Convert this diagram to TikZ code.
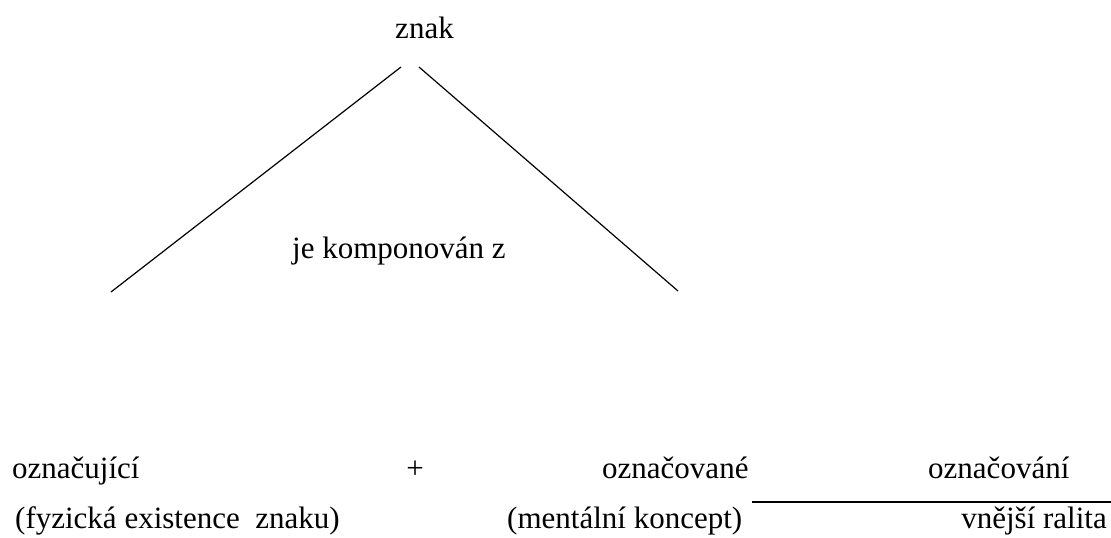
\documentclass[tikz,border=0pt]{standalone}
\usepackage{fontspec}
\setmainfont{Liberation Serif}
\begin{document}
\begin{tikzpicture}[x=1pt,y=-1pt,
  lbl/.style={inner sep=0pt,font=\fontsize{31}{34}\selectfont},
  ln/.style={line width=1.2pt,black}]
\useasboundingbox (0,0) rectangle (1111,538);
\node[lbl,anchor=base] (znak) at (424.5,38) {znak};
\node[lbl,anchor=base west] (komp) at (292,258) {je komponován z};
\node[lbl,anchor=base west] (oznc) at (12,478) {označující};
\node[lbl,anchor=base] (plus) at (415,478) {+};
\node[lbl,anchor=base west] (oznv) at (602,478) {označované};
\node[lbl,anchor=base west] (oznani) at (928,478) {označování};
\node[lbl,anchor=base west] (fyz) at (15,528) {(fyzická existence \ znaku)};
\node[lbl,anchor=base west] (ment) at (507,528) {(mentální koncept)};
\node[lbl,anchor=base east] (vnej) at (1107,528) {vnější ralita};
\coordinate (lt) at (401,67);
\coordinate (lb) at (111,292);
\coordinate (rt) at (419,67);
\coordinate (rb) at (678,291);
\coordinate (fl) at (752,502);
\coordinate (fr) at (1111,502);
\draw[ln] (lt) -- (lb);
\draw[ln] (rt) -- (rb);
\draw[ln] (fl) -- (fr);
\end{tikzpicture}
\end{document}
